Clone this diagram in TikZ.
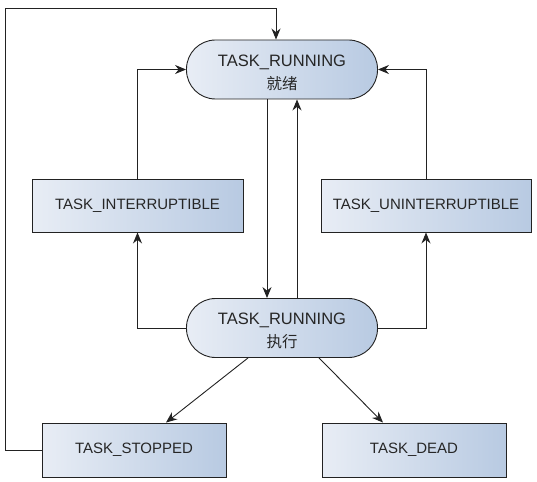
\documentclass[tikz,border=0pt]{standalone}
\usepackage{fontspec}
\setmainfont{Liberation Sans}
\newfontfamily\cjk{Noto Sans CJK SC}
\usepackage{tikz}
\usetikzlibrary{arrows.meta,positioning,calc}
\definecolor{clLine}{HTML}{222222}
\definecolor{clFillL}{HTML}{E8EDF5}
\definecolor{clFillR}{HTML}{B8CAE2}
\tikzset{
  state/.style={rectangle, draw=clLine, line width=0.9pt, left color=clFillL, right color=clFillR,
                align=center, inner sep=0pt, text=black!85, font=\fontsize{15}{17}\selectfont},
  stadium/.style={state, rounded corners=29pt, minimum width=191pt, minimum height=59pt,
                  font=\fontsize{16.5}{23}\selectfont},
  flow/.style={-{Stealth[length=11pt,width=9pt]}, line width=0.9pt, draw=clLine},
}
\newcommand{\cjktext}[1]{{\cjk\fontsize{15.5}{17}\selectfont #1}}

\begin{document}
\begin{tikzpicture}[x=1pt, y=-1pt]
  \useasboundingbox (0,0) rectangle (537,481);
  % states
  \node[stadium] (ready) at (282,69.5) {\rule{0pt}{18pt}TASK\_RUNNING\\\cjktext{就绪}};
  \node[stadium] (run) at (282,328) {\rule{0pt}{18pt}TASK\_RUNNING\\\cjktext{执行}};
  \node[state, minimum width=211pt, minimum height=53pt] (intr) at (137.5,205.5) {TASK\_INTERRUPTIBLE};
  \node[state, minimum width=210pt, minimum height=53pt] (unintr) at (426,205.5) {TASK\_UNINTERRUPTIBLE};
  \node[state, minimum width=184pt, minimum height=54pt] (stopped) at (134,450) {TASK\_STOPPED};
  \node[state, minimum width=184pt, minimum height=54pt] (dead) at (414,450) {TASK\_DEAD};
  \coordinate (loop) at (5,8);
  % transitions
  \draw[flow] ([xshift=-15pt]ready.south) -- ([xshift=-15pt]run.north);
  \draw[flow] ([xshift=15pt]run.north) -- ([xshift=15pt]ready.south);
  \draw[flow] (run.west) -| (intr.south);
  \draw[flow] (run.east) -| (unintr.south);
  \draw[flow] (intr.north) |- (ready.west);
  \draw[flow] (unintr.north) |- (ready.east);
  \draw[flow] ([xshift=-34pt]run.south) -- ([xshift=32pt]stopped.north);
  \draw[flow] ([xshift=37pt]run.south) -- ([xshift=-31pt]dead.north);
  \draw[flow] (stopped.west) -| (loop) -| ([xshift=-6pt]ready.north);
\end{tikzpicture}
\end{document}
